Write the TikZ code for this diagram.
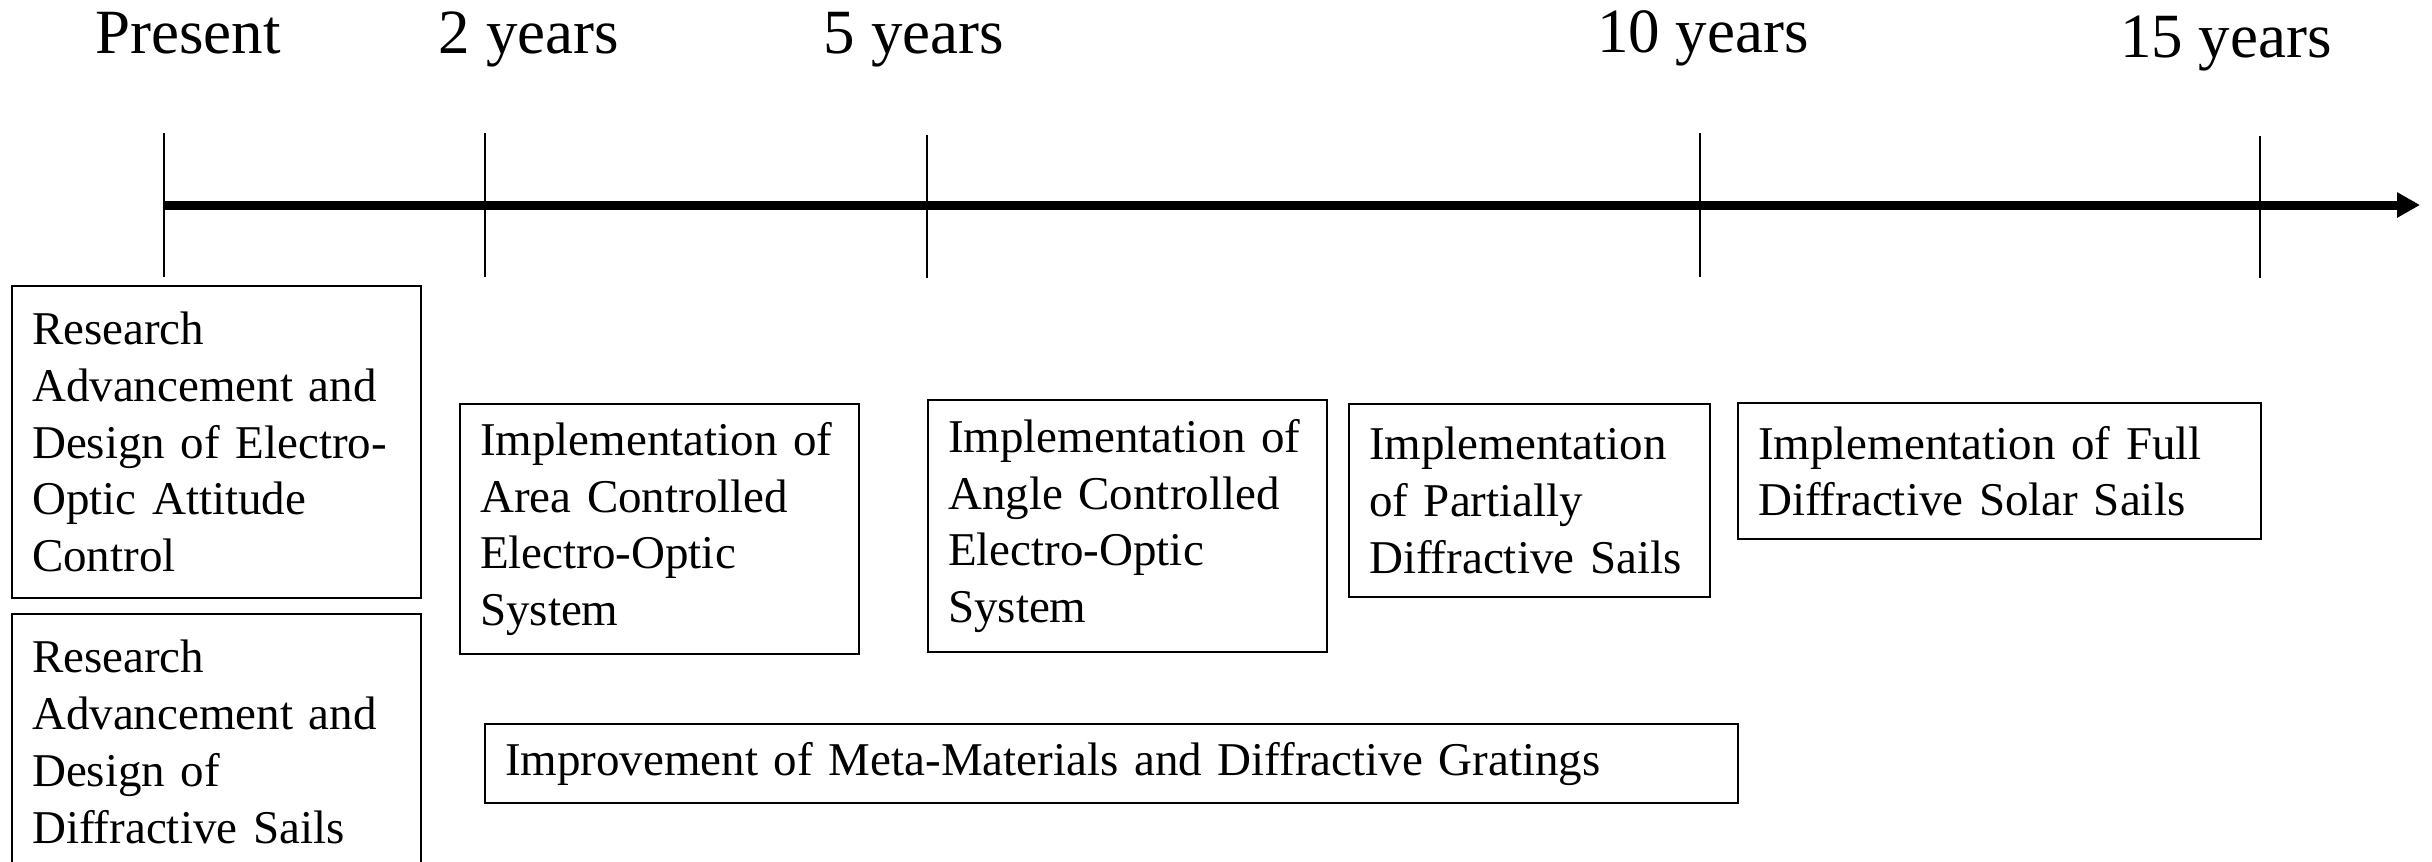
\documentclass[tikz,border=0pt]{standalone}
\usepackage{fontspec}
\setmainfont{Liberation Serif}
\usetikzlibrary{arrows.meta, positioning}

\begin{document}
\begin{tikzpicture}[
    x=0.25pt, y=-0.25pt,
    >={Triangle[length=5.75pt, width=6pt]},
    period/.style={font=\fontsize{15.75}{18}\selectfont, inner sep=0pt, anchor=base},
    task/.style={draw, line width=0.55pt, anchor=north west, align=left, inner xsep=5pt, inner ysep=0pt, font=\fontsize{11.75}{14.2}\selectfont},
    yearline/.style={line width=0.45pt},
    timeline/.style={->, line width=2.25pt}
]
\useasboundingbox (0,0) rectangle (2432,861);

% Year labels
\node[period] (now) at (188,53) {Present};
\node[period] (y2) at (529,53) {2 years};
\node[period] (y5) at (914,53) {5 years};
\node[period] (y10) at (1703,52) {10 years};
\node[period] (y15) at (2226,57) {15 years};

% Marks on the time line
\coordinate (now top) at (164,133);  \coordinate (now bot) at (164,277);
\coordinate (y2 top) at (485,133);   \coordinate (y2 bot) at (485,277);
\coordinate (y5 top) at (927,135);   \coordinate (y5 bot) at (927,278);
\coordinate (y10 top) at (1700,133); \coordinate (y10 bot) at (1700,277);
\coordinate (y15 top) at (2260,136); \coordinate (y15 bot) at (2260,278);
\coordinate (start) at (164,205);
\coordinate (end) at (2420,205);

\draw[yearline] (now top) -- (now bot);
\draw[yearline] (y2 top) -- (y2 bot);
\draw[yearline] (y5 top) -- (y5 bot);
\draw[yearline] (y10 top) -- (y10 bot);
\draw[yearline] (y15 top) -- (y15 bot);

\draw[timeline] (start) -- (end);

% Research boxes
\node[task, text width=92.25pt, minimum height=78pt] (dsnEO) at (11,285) {Research\\Advancement and\\Design of Electro-\\Optic Attitude\\Control};
\node[task, text width=92.25pt, minimum height=63.75pt, anchor=north, below=3.5pt of dsnEO] (dsnDS) {Research\\Advancement and\\Design of\\Diffractive Sails};

% Implementation boxes
\node[task, text width=89.75pt, minimum height=62.5pt] (implArea) at (459,403) {Implementation of\\Area Controlled\\Electro-Optic\\System};
\node[task, text width=89.75pt, minimum height=63pt] (implAngle) at (927,399) {Implementation of\\Angle Controlled\\Electro-Optic\\System};
\node[task, text width=80.25pt, minimum height=48.25pt] (implPart) at (1348,403) {Implementation\\of Partially\\Diffractive Sails};
\node[task, text width=120.75pt, minimum height=34pt] (implFull) at (1737,402) {Implementation of Full\\Diffractive Solar Sails};

% Materials box
\node[task, text width=303.25pt, minimum height=19.75pt] (meta) at (484,723) {Improvement of Meta-Materials and Diffractive Gratings};

\end{tikzpicture}
\end{document}
